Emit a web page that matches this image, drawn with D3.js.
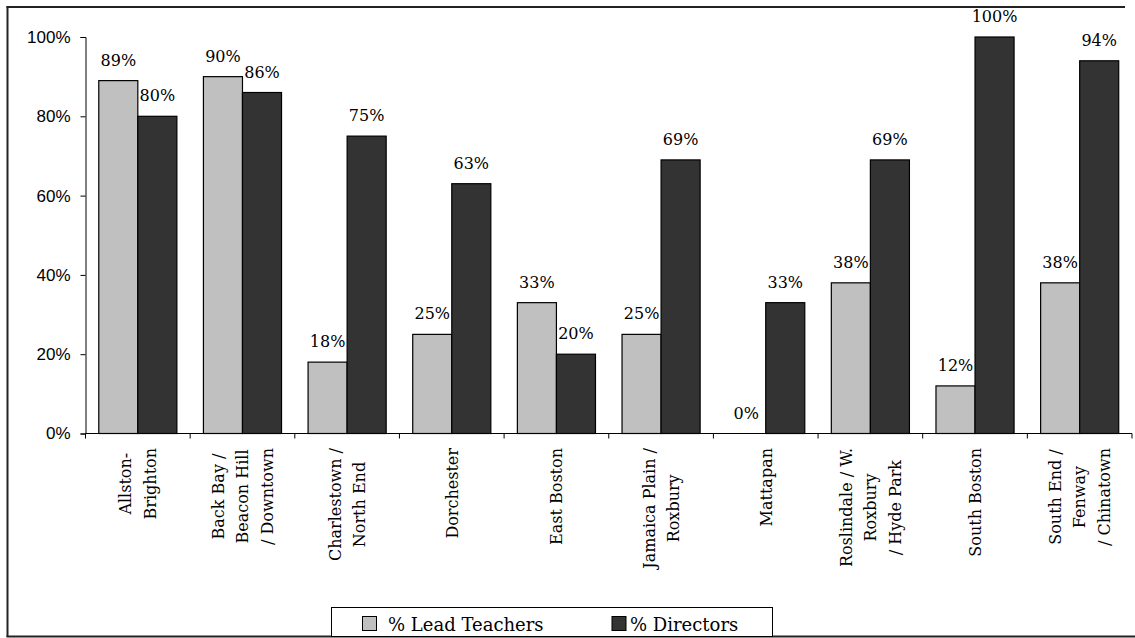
<!DOCTYPE html>
<html>
<head>
<meta charset="utf-8">
<script src="https://cdn.jsdelivr.net/npm/d3@7"></script>
<style>
  html, body { margin: 0; padding: 0; background: #fff; }
  svg { display: block; }
</style>
</head>
<body>
<svg id="chart" width="1135" height="638"></svg>
<script>
// Neighborhood names; "\n" marks where each label wraps
const categories = [
  "Allston-\nBrighton",
  "Back Bay /\nBeacon Hill\n/ Downtown",
  "Charlestown /\nNorth End",
  "Dorchester",
  "East Boston",
  "Jamaica Plain /\nRoxbury",
  "Mattapan",
  "Roslindale / W.\nRoxbury\n/ Hyde Park",
  "South Boston",
  "South End /\nFenway\n/ Chinatown"
];
const seriesNames = ["% Lead Teachers", "% Directors"];
const leadTeachers = [89, 90, 18, 25, 33, 25, 0, 38, 12, 38];
const directors = [80, 86, 75, 63, 20, 69, 33, 69, 100, 94];
const yTicks = [0, 20, 40, 60, 80, 100];
const seriesColors = ["#c0c0c0", "#333333"];

const serif = "'DejaVu Serif', 'Liberation Serif', serif";
const sans = "'Liberation Sans', Arial, sans-serif";

const svg = d3.select("#chart");

// Outer frame
svg.append("line").attr("x1", 7.5).attr("x2", 7.5).attr("y1", 6).attr("y2", 637)
  .attr("stroke", "#222").attr("stroke-width", 2);
svg.append("line").attr("x1", 6.5).attr("x2", 1125).attr("y1", 7).attr("y2", 7)
  .attr("stroke", "#222").attr("stroke-width", 2);
svg.append("line").attr("x1", 6.5).attr("x2", 1135).attr("y1", 636.5).attr("y2", 636.5)
  .attr("stroke", "#222").attr("stroke-width", 2);

const x0 = 85.5, x1 = 1132, yTop = 37, yBottom = 433.5;

const x = d3.scaleBand().domain(categories).range([x0, x1]).padding(0);
const xs = d3.scaleBand().domain(seriesNames).range([0, x.bandwidth()])
  .paddingInner(0).paddingOuter(0.34);
const y = d3.scaleLinear().domain([0, 100]).range([yBottom, yTop]);

// Y axis
const yAxis = svg.append("g").attr("transform", `translate(${x0},0)`)
  .call(d3.axisLeft(y).tickValues(yTicks).tickSize(5).tickPadding(10)
    .tickFormat(d => d + "%"));
yAxis.select(".domain").attr("stroke", "#000");
yAxis.selectAll(".tick line").attr("stroke", "#000");
yAxis.selectAll("text").attr("font-family", sans).attr("font-size", 17).attr("fill", "#000");

// Bars
const rows = categories.map((c, i) => ({ cat: c, values: [leadTeachers[i], directors[i]] }));
const groups = svg.append("g").selectAll("g").data(rows).join("g")
  .attr("transform", d => `translate(${x(d.cat)},0)`);

groups.selectAll("rect")
  .data(d => d.values.map((v, j) => ({ key: seriesNames[j], v, j })))
  .join("rect")
  .attr("x", d => xs(d.key))
  .attr("width", xs.bandwidth())
  .attr("y", d => y(d.v))
  .attr("height", d => y(0) - y(d.v))
  .attr("fill", d => seriesColors[d.j])
  .attr("stroke", d => d.v > 0 ? "#000" : "none")
  .attr("stroke-width", 1.2);

groups.selectAll("text.val")
  .data(d => d.values.map((v, j) => ({ key: seriesNames[j], v })))
  .join("text")
  .attr("class", "val")
  .attr("x", d => xs(d.key) + xs.bandwidth() / 2)
  .attr("y", d => y(d.v) - 15)
  .attr("text-anchor", "middle")
  .attr("font-family", serif)
  .attr("font-size", 16)
  .attr("fill", "#000")
  .text(d => d.v + "%");

// X axis: line and category boundary ticks
svg.append("line").attr("x1", x0).attr("x2", x1).attr("y1", yBottom).attr("y2", yBottom)
  .attr("stroke", "#000");
const boundaries = categories.map(c => x(c)).concat([x1]);
svg.append("g").selectAll("line").data(boundaries).join("line")
  .attr("x1", d => d).attr("x2", d => d)
  .attr("y1", yBottom).attr("y2", yBottom + 5)
  .attr("stroke", "#000");

// Rotated, wrapped category labels
const pitch = 24.5;
const labelTop = 448;
const labels = svg.append("g").selectAll("g").data(categories).join("g")
  .attr("transform", d => `translate(${x(d) + x.bandwidth() / 2},${labelTop}) rotate(-90)`);

labels.each(function (d) {
  const g = d3.select(this);
  const lines = d.split("\n");
  const n = lines.length;
  const texts = g.selectAll("text").data(lines).join("text")
    .attr("font-family", serif)
    .attr("font-size", 16)
    .attr("fill", "#000")
    .attr("text-anchor", "middle")
    .attr("y", (l, i) => -(n - 1) * pitch / 2 + i * pitch + 5.8)
    .text(l => l);
  let maxLen = 0;
  texts.each(function () { maxLen = Math.max(maxLen, this.getComputedTextLength()); });
  texts.attr("x", -maxLen / 2);
});

// Legend
const legend = svg.append("g");
legend.append("rect").attr("x", 331.5).attr("y", 607.5).attr("width", 441).attr("height", 29)
  .attr("fill", "#fff").attr("stroke", "#000").attr("stroke-width", 1);
const legendItems = [
  { name: seriesNames[0], color: seriesColors[0], sx: 362, tx: 388 },
  { name: seriesNames[1], color: seriesColors[1], sx: 611.5, tx: 630 }
];
legend.selectAll("rect.sw").data(legendItems).join("rect")
  .attr("class", "sw")
  .attr("x", d => d.sx + 0.5).attr("y", 616.5)
  .attr("width", 14).attr("height", 14)
  .attr("fill", d => d.color).attr("stroke", "#000").attr("stroke-width", 1);
legend.selectAll("text").data(legendItems).join("text")
  .attr("x", d => d.tx).attr("y", 631)
  .attr("font-family", serif).attr("font-size", 18).attr("fill", "#000")
  .text(d => d.name);
</script>
</body>
</html>
